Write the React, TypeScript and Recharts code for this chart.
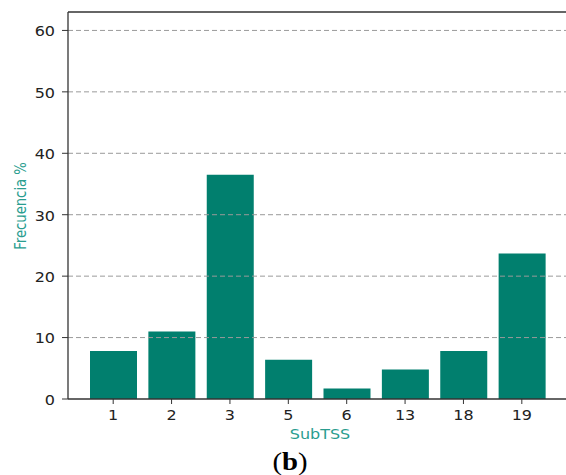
import React from 'react';
import { BarChart, Bar, XAxis, YAxis, ReferenceLine } from 'recharts';

const categories = ['1', '2', '3', '5', '6', '13', '18', '19'];
const frecuencia = [7.8, 11.0, 36.5, 6.4, 1.7, 4.8, 7.8, 23.7];
const yTicks = [0, 10, 20, 30, 40, 50, 60];
const yMax = 63;

const data = categories.map((c, i) => ({ cat: c, value: frecuencia[i] }));

const SX = 1.16;
const FONT = '"DejaVu Sans", sans-serif';
const FS = 13.8;
const TEAL_LABEL = '#2a9d8f';

function XTick(props: any) {
  const { x, y, payload } = props;
  return (
    <g transform={`translate(${x},${y}) scale(${SX},1)`}>
      <text x={0} y={0} dy="0.71em" textAnchor="middle" fontFamily={FONT} fontSize={FS} fill="#222">
        {payload.value}
      </text>
    </g>
  );
}

function YTick(props: any) {
  const { x, y, payload } = props;
  return (
    <g transform={`translate(${x},${y}) scale(${SX},1)`}>
      <text x={0} y={0} dy="0.42em" textAnchor="end" fontFamily={FONT} fontSize={FS} fill="#222">
        {payload.value}
      </text>
    </g>
  );
}

function XLabel() {
  return (
    <g transform={`translate(320,439) scale(${SX},1)`}>
      <text x={0} y={0} textAnchor="middle" fontFamily={FONT} fontSize={FS} fill={TEAL_LABEL}>
        SubTSS
      </text>
    </g>
  );
}

function YLabel() {
  return (
    <g transform={`translate(26,206) scale(1.22,1) rotate(-90)`}>
      <text x={0} y={0} textAnchor="middle" fontFamily={FONT} fontSize={13.2} fill={TEAL_LABEL}>
        Frecuencia %
      </text>
    </g>
  );
}

export default function App() {
  return (
    <div
      style={{
        position: 'fixed',
        left: 0,
        top: 0,
        width: 566,
        height: 475,
        overflow: 'hidden',
        background: '#fff',
      }}
    >
      <BarChart width={570} height={475} data={data} margin={{ top: 12, right: 1, bottom: 16, left: 0 }}>
        <XAxis
          dataKey="cat"
          type="category"
          padding={{ left: 16, right: 18 }}
          height={60}
          interval={0}
          tick={<XTick />}
          tickSize={5}
          tickMargin={6}
          axisLine={{ stroke: '#333', strokeWidth: 1.3 }}
          tickLine={{ stroke: '#333', strokeWidth: 1 }}
          label={<XLabel />}
        />
        <YAxis
          type="number"
          domain={[0, yMax]}
          ticks={yTicks}
          width={68}
          interval={0}
          tick={<YTick />}
          tickSize={6}
          tickMargin={7}
          axisLine={{ stroke: '#333', strokeWidth: 1.3 }}
          tickLine={{ stroke: '#333', strokeWidth: 1 }}
          label={<YLabel />}
        />
        <Bar dataKey="value" fill="#017f6e" barSize={47} isAnimationActive={false} />
        {yTicks.slice(1).map((t) => (
          <ReferenceLine key={t} y={t} stroke="#9a9a9a" strokeWidth={1} strokeDasharray="5 3" />
        ))}
        <ReferenceLine y={yMax} stroke="#333" strokeWidth={1.3} />
      </BarChart>
      <div
        style={{
          position: 'absolute',
          left: 240,
          top: 449,
          width: 100,
          textAlign: 'center',
          fontFamily: '"Liberation Serif", serif',
          fontSize: 25,
          lineHeight: '25px',
          color: '#000',
          transform: `scaleX(1.15)`,
        }}
      >
        (<b>b</b>)
      </div>
    </div>
  );
}
